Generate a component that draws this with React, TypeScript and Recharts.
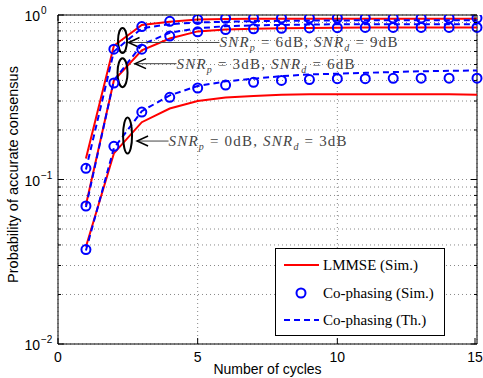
import React from 'react';
import { LineChart, Line, XAxis, YAxis, CartesianGrid, ReferenceLine, ReferenceDot, Legend } from 'recharts';

// number of consensus cycles
const cycles = [1, 2, 3, 4, 5, 6, 7, 8, 9, 10, 11, 12, 13, 14, 15];

// SNRp = 6dB, SNRd = 9dB
const lmmseHigh = [0.134, 0.65, 0.87, 0.91, 0.94, 0.945, 0.948, 0.95, 0.95, 0.95, 0.95, 0.95, 0.95, 0.95, 0.95];
const coSimHigh = [0.117, 0.62, 0.85, 0.915, 0.94, 0.955, 0.958, 0.958, 0.958, 0.958, 0.958, 0.958, 0.958, 0.958, 0.958];
const coThHigh = [0.115, 0.6, 0.83, 0.88, 0.9, 0.91, 0.918, 0.922, 0.925, 0.927, 0.928, 0.929, 0.93, 0.93, 0.93];

// SNRp = 3dB, SNRd = 6dB
const lmmseMid = [0.07, 0.4, 0.61, 0.72, 0.795, 0.815, 0.825, 0.83, 0.835, 0.838, 0.84, 0.84, 0.84, 0.84, 0.84];
const coSimMid = [0.069, 0.386, 0.62, 0.745, 0.79, 0.815, 0.825, 0.83, 0.835, 0.838, 0.84, 0.84, 0.84, 0.84, 0.84];
const coThMid = [0.068, 0.4, 0.66, 0.78, 0.83, 0.855, 0.865, 0.87, 0.875, 0.878, 0.88, 0.88, 0.88, 0.88, 0.88];

// SNRp = 0dB, SNRd = 3dB
const lmmseLow = [0.039, 0.144, 0.223, 0.27, 0.3, 0.315, 0.322, 0.327, 0.33, 0.33, 0.33, 0.33, 0.33, 0.33, 0.328];
const coSimLow = [0.0375, 0.159, 0.257, 0.316, 0.36, 0.375, 0.39, 0.4, 0.405, 0.41, 0.41, 0.412, 0.413, 0.413, 0.413];
const coThLow = [0.037, 0.155, 0.26, 0.325, 0.37, 0.395, 0.41, 0.425, 0.435, 0.44, 0.445, 0.45, 0.455, 0.458, 0.46];

const xTicks = [0, 5, 10, 15];
const yTicks = [0.01, 0.02, 0.03, 0.04, 0.05, 0.06, 0.07, 0.08, 0.09, 0.1, 0.2, 0.3, 0.4, 0.5, 0.6, 0.7, 0.8, 0.9, 1];

// annotation anchors (ellipse centres in data units) and labels
const notes = [
  { x: 2.31, y: 0.7, p: '6', d: '9' },
  { x: 2.31, y: 0.446, p: '3', d: '6' },
  { x: 2.49, y: 0.185, p: '0', d: '3' },
];

const data = cycles.map((c, i) => ({
  x: c,
  lmmseHigh: lmmseHigh[i], coSimHigh: coSimHigh[i], coThHigh: coThHigh[i],
  lmmseMid: lmmseMid[i], coSimMid: coSimMid[i], coThMid: coThMid[i],
  lmmseLow: lmmseLow[i], coSimLow: coSimLow[i], coThLow: coThLow[i],
}));

const W = 483;
const H = 378;
const LEFT = 58;
const RIGHT = 477;
const TOP = 15;
const BOTTOM = 344;
const RED = '#ff0000';
const BLUE = '#0000ff';
const SANS = '"Liberation Sans", Arial, sans-serif';
const SERIF = '"Liberation Serif", "Times New Roman", serif';

// arrow tip / text start offsets from each ellipse centre
const noteGeo = [
  { rx: 4.5, ry: 12.5, tipX: 6, tipY: 2, textX: 97 },
  { rx: 5, ry: 14.5, tipX: 12.5, tipY: -9, textX: 54 },
  { rx: 4.5, ry: 18, tipX: 9.5, tipY: 5.5, textX: 41 },
];

const YTick = (props: any) => {
  const { y, payload } = props;
  const v = payload.value;
  const e = Math.round(Math.log10(v));
  const major = Math.abs(Math.log10(v) - e) < 1e-6;
  const len = major ? 6 : 3;
  return (
    <g>
      <line x1={LEFT} x2={LEFT + len} y1={y} y2={y} stroke="#000" />
      <line x1={RIGHT} x2={RIGHT - len} y1={y} y2={y} stroke="#000" />
      {major && (
        <text x={40} y={y + 6} textAnchor="end" fontSize={14} fontFamily={SANS} fill="#000">10</text>
      )}
      {major && (
        <text x={41} y={y - 1} fontSize={10} fontFamily={SANS} fill="#000">{e === 0 ? '0' : String(e).replace('-', '\u2212')}</text>
      )}
    </g>
  );
};

const XTick = (props: any) => {
  const { x, payload } = props;
  return (
    <g>
      <line x1={x} x2={x} y1={BOTTOM} y2={BOTTOM - 6} stroke="#000" />
      <line x1={x} x2={x} y1={TOP} y2={TOP + 6} stroke="#000" />
      <text x={x} y={362} textAnchor="middle" fontSize={14} fontFamily={SANS} fill="#000">{payload.value}</text>
    </g>
  );
};

const NoteShape = (idx: number) => (props: any) => {
  const { cx, cy } = props;
  const g = noteGeo[idx];
  const n = notes[idx];
  const tx = cx + g.tipX;
  const ty = cy + g.tipY;
  const sx = cx + g.textX;
  return (
    <g>
      <ellipse cx={cx} cy={cy} rx={g.rx} ry={g.ry} fill="none" stroke="#000" strokeWidth={2} />
      <line x1={tx} y1={ty} x2={sx} y2={ty} stroke="#444" strokeWidth={1} />
      <path d={`M${tx + 11},${ty - 5} L${tx},${ty} L${tx + 11},${ty + 5}`} fill="none" stroke="#000" strokeWidth={1.5} />
      <text x={sx} y={ty + 5} fontSize={15} fontFamily={SERIF} fill="#444" textLength={178} lengthAdjust="spacing">
        <tspan fontStyle="italic">SNR</tspan>
        <tspan fontStyle="italic" fontSize={10} dy={4}>p</tspan>
        <tspan dy={-4}>{` = ${n.p}dB, `}</tspan>
        <tspan fontStyle="italic">SNR</tspan>
        <tspan fontStyle="italic" fontSize={10} dy={4}>d</tspan>
        <tspan dy={-4}>{` = ${n.d}dB`}</tspan>
      </text>
    </g>
  );
};

const LegendBox = () => (
  <div
    style={{
      width: 168,
      height: 86,
      border: '1px solid #000',
      background: '#fff',
      position: 'relative',
    }}
  >
    <svg width={168} height={86} style={{ position: 'absolute', left: 0, top: 0 }}>
      <line x1={8} x2={43} y1={16} y2={16} stroke={RED} strokeWidth={2} />
      <circle cx={25} cy={44} r={4.5} fill="none" stroke={BLUE} strokeWidth={2} />
      <line x1={8} x2={43} y1={71} y2={71} stroke={BLUE} strokeWidth={2} strokeDasharray="6 4" />
      <text x={47} y={21} fontSize={15} fontFamily={SERIF} fill="#000">LMMSE (Sim.)</text>
      <text x={47} y={49} fontSize={15} fontFamily={SERIF} fill="#000">Co-phasing (Sim.)</text>
      <text x={47} y={76} fontSize={15} fontFamily={SERIF} fill="#000">Co-phasing (Th.)</text>
    </svg>
  </div>
);

const circleDot = { r: 4.5, stroke: BLUE, strokeWidth: 2, fill: 'none' };

export default function App() {
  return (
    <div style={{ position: 'absolute', left: 0, top: 0, width: W, height: H, background: '#fff' }}>
      <LineChart width={W} height={H} data={data} margin={{ top: TOP, right: W - RIGHT, left: 0, bottom: 0 }}>
        <CartesianGrid stroke="#888" strokeDasharray="1 3" />
        <XAxis
          dataKey="x"
          type="number"
          domain={[0, 15]}
          ticks={xTicks}
          height={H - BOTTOM}
          stroke="#000"
          tickLine={false}
          tick={<XTick />}
          label={() => (
            <text x={(LEFT + RIGHT) / 2} y={374} textAnchor="middle" fontSize={14} fontFamily={SANS} fill="#000">
              Number of cycles
            </text>
          )}
        />
        <YAxis
          scale="log"
          domain={[0.01, 1]}
          ticks={yTicks}
          allowDataOverflow
          width={LEFT}
          stroke="#000"
          tickLine={false}
          tick={<YTick />}
          interval={0}
          label={() => (
            <text
              x={14}
              y={(TOP + BOTTOM) / 2 - 5}
              transform={`rotate(-90 14 ${(TOP + BOTTOM) / 2 - 5})`}
              textAnchor="middle"
              dominantBaseline="middle"
              fontSize={14.5}
              fontFamily={SANS}
              fill="#000"
            >
              Probability of accurate consensus
            </text>
          )}
        />
        <ReferenceLine y={1} stroke="#000" />
        <ReferenceLine x={15} stroke="#000" />

        <Line dataKey="lmmseHigh" stroke={RED} strokeWidth={2} dot={false} activeDot={false} isAnimationActive={false} />
        <Line dataKey="lmmseMid" stroke={RED} strokeWidth={2} dot={false} activeDot={false} isAnimationActive={false} />
        <Line dataKey="lmmseLow" stroke={RED} strokeWidth={2} dot={false} activeDot={false} isAnimationActive={false} />

        <Line dataKey="coThHigh" stroke={BLUE} strokeWidth={2} strokeDasharray="6 4" dot={false} activeDot={false} isAnimationActive={false} />
        <Line dataKey="coThMid" stroke={BLUE} strokeWidth={2} strokeDasharray="6 4" dot={false} activeDot={false} isAnimationActive={false} />
        <Line dataKey="coThLow" stroke={BLUE} strokeWidth={2} strokeDasharray="6 4" dot={false} activeDot={false} isAnimationActive={false} />

        <Line dataKey="coSimHigh" stroke="none" dot={circleDot} activeDot={false} isAnimationActive={false} />
        <Line dataKey="coSimMid" stroke="none" dot={circleDot} activeDot={false} isAnimationActive={false} />
        <Line dataKey="coSimLow" stroke="none" dot={circleDot} activeDot={false} isAnimationActive={false} />

        {notes.map((n, i) => (
          <ReferenceDot key={i} x={n.x} y={n.y} r={0} shape={NoteShape(i)} />
        ))}

        <Legend
          layout="vertical"
          verticalAlign="middle"
          align="center"
          content={() => <LegendBox />}
          wrapperStyle={{ left: 275, top: 248, width: 170, height: 88 }}
        />
      </LineChart>
    </div>
  );
}
